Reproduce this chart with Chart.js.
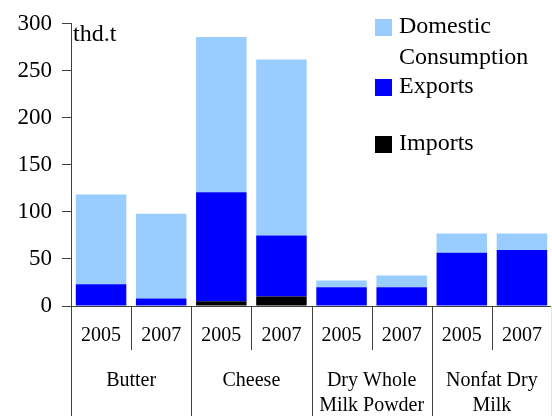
<!DOCTYPE html>
<html>
<head>
<meta charset="utf-8">
<script src="https://cdn.jsdelivr.net/npm/chart.js@4.4.0/dist/chart.umd.min.js"></script>
<style>
  html, body { margin: 0; padding: 0; background: #fff; }
  #wrap { width: 552px; height: 416px; }
</style>
</head>
<body>
<div id="wrap"><canvas id="dairyChart" width="552" height="416"></canvas></div>
<script>
const years = ['2005', '2007', '2005', '2007', '2005', '2007', '2005', '2007'];
const products = [['Butter'], ['Cheese'], ['Dry Whole', 'Milk Powder'], ['Nonfat Dry', 'Milk']];

const imports = [0, 0, 5, 10, 0, 0, 0, 0];
const exportsT = [23, 8, 116, 65, 20, 20, 56.5, 59.5];
const domestic = [95.5, 90, 165, 187, 7, 12.5, 20.5, 17.5];

const yTicks = [0, 50, 100, 150, 200, 250, 300];

const serif = '"Liberation Serif", "Times New Roman", serif';
const lineColor = '#404040';

// group separators, product names, unit label and the legend on the right
const tablePlugin = {
    id: 'tablePlugin',
    afterDraw(chart) {
        const ctx = chart.ctx;
        const x = chart.scales.x;
        const bottom = chart.chartArea.bottom;
        const step = x.getPixelForValue(1) - x.getPixelForValue(0);

        ctx.save();
        ctx.lineWidth = 1;
        for (let i = 0; i <= years.length; i++) {
            const px = Math.min(Math.round(x.getPixelForValue(i) - step / 2), chart.width - 1) + 0.5;
            const end = i % 2 === 0 ? chart.height : bottom + 44;
            // the outer right edge is only a faint line
            ctx.strokeStyle = i === years.length ? '#e4e4e4' : lineColor;
            ctx.beginPath();
            ctx.moveTo(px, bottom);
            ctx.lineTo(px, end);
            ctx.stroke();
        }

        ctx.fillStyle = '#000';
        ctx.font = '20px ' + serif;
        ctx.textAlign = 'center';
        ctx.textBaseline = 'middle';
        products.forEach((lines, g) => {
            const cx = (x.getPixelForValue(g * 2) + x.getPixelForValue(g * 2 + 1)) / 2;
            lines.forEach((line, k) => {
                ctx.fillText(line, cx, bottom + 75 + k * 25);
            });
        });

        ctx.font = '24px ' + serif;
        ctx.textAlign = 'left';
        ctx.textBaseline = 'alphabetic';
        ctx.fillText('thd.t', chart.chartArea.left + 2, 41);

        const rowTops = { 'Domestic Consumption': 19, 'Exports': 79, 'Imports': 136 };
        ctx.textBaseline = 'middle';
        chart.data.datasets.slice().reverse().forEach(ds => {
            const top = rowTops[ds.label];
            ctx.fillStyle = ds.backgroundColor;
            ctx.fillRect(375, top, 17, 17);
            ctx.fillStyle = '#000';
            const words = ds.label === 'Domestic Consumption' ? ['Domestic', 'Consumption'] : [ds.label];
            words.forEach((w, k) => {
                ctx.fillText(w, 399, top + 8 + k * 31);
            });
        });
        ctx.restore();
    }
};

const ctx = document.getElementById('dairyChart').getContext('2d');
const dairyChart = new Chart(ctx, {
    type: 'bar',
    data: {
        labels: years,
        datasets: [{
            label: 'Imports',
            data: imports,
            backgroundColor: '#000000'
        }, {
            label: 'Exports',
            data: exportsT,
            backgroundColor: '#0000ff'
        }, {
            label: 'Domestic Consumption',
            data: domestic,
            backgroundColor: '#99ccff'
        }]
    },
    options: {
        responsive: false,
        animation: false,
        layout: {
            padding: { top: 15, right: 0, left: 0, bottom: 0 }
        },
        datasets: {
            bar: {
                barPercentage: 0.84,
                categoryPercentage: 1,
                borderWidth: 0
            }
        },
        plugins: {
            legend: { display: false },
            tooltip: { enabled: false }
        },
        scales: {
            x: {
                stacked: true,
                afterFit: function(scale) {
                    scale.height = 110;
                    scale.paddingLeft = 0;
                    scale.paddingRight = 0;
                },
                grid: { display: false },
                border: { display: true, color: lineColor },
                ticks: {
                    color: '#000',
                    padding: 10,
                    maxRotation: 0,
                    autoSkip: false,
                    font: { family: serif, size: 20 }
                }
            },
            y: {
                stacked: true,
                min: 0,
                max: 300,
                afterFit: function(scale) {
                    scale.width = 71;
                },
                afterBuildTicks: function(scale) {
                    scale.ticks = yTicks.map(v => ({ value: v }));
                },
                grid: {
                    drawOnChartArea: false,
                    drawTicks: true,
                    tickLength: 9,
                    color: lineColor
                },
                border: { display: true, color: lineColor },
                ticks: {
                    color: '#000',
                    padding: 10,
                    font: { family: serif, size: 23 }
                }
            }
        }
    },
    plugins: [tablePlugin]
});
</script>
</body>
</html>
